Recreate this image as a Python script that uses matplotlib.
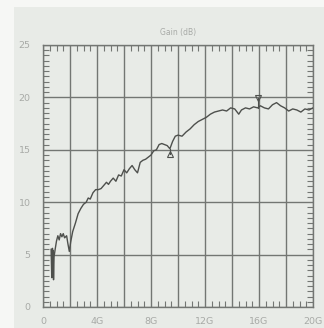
import matplotlib
matplotlib.use("Agg")
import matplotlib.pyplot as plt
from matplotlib.patches import Rectangle
from matplotlib.ticker import MultipleLocator

freq = [0.60, 0.65, 0.70, 0.72, 0.75, 0.78, 0.82, 0.90, 1.00, 1.10, 1.20, 1.30, 1.40, 1.50,
        1.60, 1.75, 1.85, 1.95, 2.05, 2.20, 2.40, 2.60, 2.80, 3.00, 3.20, 3.35, 3.50, 3.70,
        3.90, 4.10, 4.30, 4.50, 4.70, 4.85, 5.00, 5.20, 5.40, 5.60, 5.80, 6.00, 6.20, 6.40,
        6.60, 6.80, 7.00, 7.20, 7.40, 7.60, 7.80, 8.00, 8.20, 8.40, 8.60, 8.80, 9.00, 9.20,
        9.40, 9.60, 9.80, 10.00, 10.30, 10.60, 10.90, 11.20, 11.50, 11.80, 12.10, 12.40,
        12.70, 13.00, 13.30, 13.60, 13.90, 14.20, 14.50, 14.70, 15.00, 15.30, 15.60, 15.90,
        16.10, 16.40, 16.70, 17.00, 17.30, 17.60, 17.90, 18.20, 18.50, 18.80, 19.10, 19.40,
        19.70, 20.00]
gain = [5.5, 2.8, 5.6, 3.0, 5.4, 2.6, 4.8, 5.5, 6.3, 6.8, 6.4, 7.0, 6.7, 7.0,
        6.6, 6.8, 6.0, 5.3, 6.2, 7.2, 8.0, 8.9, 9.4, 9.8, 10.0, 10.4, 10.3, 10.9,
        11.2, 11.2, 11.3, 11.6, 11.9, 11.7, 12.0, 12.3, 12.0, 12.6, 12.5, 13.1, 12.8, 13.2,
        13.5, 13.1, 12.8, 13.8, 14.0, 14.1, 14.3, 14.5, 14.9, 15.0, 15.5, 15.6, 15.5, 15.4,
        15.1, 15.8, 16.3, 16.4, 16.3, 16.7, 17.0, 17.4, 17.7, 17.9, 18.1, 18.4,
        18.6, 18.7, 18.8, 18.7, 19.0, 18.9, 18.4, 18.8, 19.0, 18.9, 19.1, 19.0,
        19.2, 19.0, 18.9, 19.3, 19.5, 19.2, 19.0, 18.7, 18.9, 18.8, 18.6, 18.9,
        18.8, 19.0]

marker_freq = [9.4, 15.9]
marker_gain = [14.6, 19.9]
marker_curve = [15.1, 19.0]
marker_shape = ['^', 'v']

xticks = [0, 4, 8, 12, 16, 20]
xticklabels = ['0', '4G', '8G', '12G', '16G', '20G']
yticks = [0, 5, 10, 15, 20, 25]
yticklabels = ['0', '5', '10', '15', '20', '25']

W, H = 324, 328
fig = plt.figure(figsize=(W / 100, H / 100), dpi=100)
fig.patch.set_facecolor('#f6f7f5')
paper = Rectangle((14 / W, 0), 1, (H - 7) / H, transform=fig.transFigure,
                  facecolor='#e8ebe7', edgecolor='none', zorder=-10)
fig.add_artist(paper)

ax = fig.add_axes([43 / W, (H - 307) / H, 270 / W, 262 / H])
ax.set_zorder(1)
ax.set_facecolor('#e8ebe7')
ax.set_xlim(0, 20)
ax.set_ylim(0, 25)

gc = '#737673'
ax.set_xticks(range(0, 21, 2))
lbl = dict(zip(xticks, xticklabels))
ax.set_xticklabels([lbl.get(v, '') for v in range(0, 21, 2)])
ax.set_yticks(yticks)
ax.set_yticklabels(yticklabels)
ax.xaxis.set_minor_locator(MultipleLocator(0.5))
ax.yaxis.set_minor_locator(MultipleLocator(0.5))
ax.grid(True, which='major', color=gc, linewidth=1.0)
ax.tick_params(which='major', length=0, labelsize=6.8, labelcolor='#a8aaa7')
ax.tick_params(axis='x', which='major', pad=7)
ax.tick_params(axis='y', which='major', pad=9)
ax.tick_params(which='minor', direction='in', length=4, width=0.8, color=gc,
               top=True, right=True, bottom=True, left=True)
for s in ax.spines.values():
    s.set_color(gc)
    s.set_linewidth(1.0)

ax.plot(freq, gain, color='#4e504d', linewidth=1.0, zorder=3)
for f, g, c, m in zip(marker_freq, marker_gain, marker_curve, marker_shape):
    ax.plot([f, f], [c, g], color='#4e504d', linewidth=0.8, zorder=3)
    ax.plot([f], [g], marker=m, markersize=5, markerfacecolor='none',
            markeredgecolor='#4e504d', markeredgewidth=0.8, zorder=4)

ax.set_title('Gain (dB)', fontsize=5.5, color='#a8aaa7', pad=7)

fig.savefig('out.png', dpi=100, facecolor=fig.get_facecolor())
